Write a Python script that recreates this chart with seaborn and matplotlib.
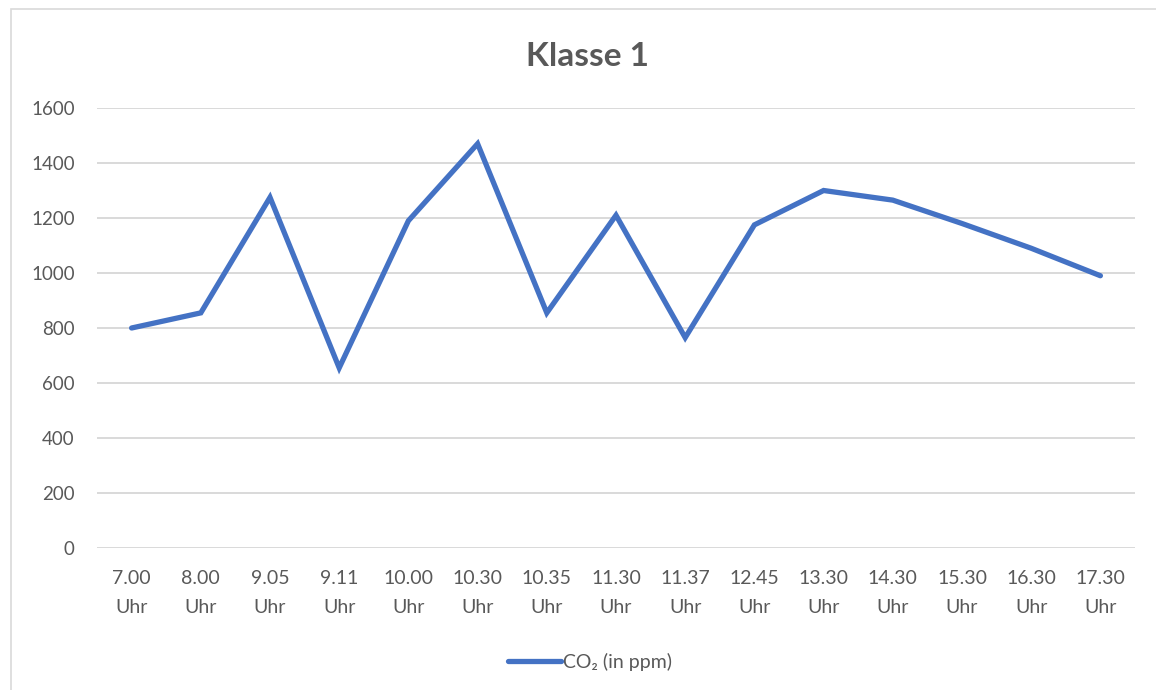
import seaborn as sns
import matplotlib.pyplot as plt
from matplotlib.patches import Rectangle
import pandas as pd

# data
zeiten = ["7.00", "8.00", "9.05", "9.11", "10.00", "10.30", "10.35", "11.30",
          "11.37", "12.45", "13.30", "14.30", "15.30", "16.30", "17.30"]
co2_ppm = [800, 855, 1275, 655, 1190, 1470, 855, 1210,
           765, 1175, 1300, 1265, 1180, 1090, 990]
y_ticks = [0, 200, 400, 600, 800, 1000, 1200, 1400, 1600]

labels = [f"{z}\nUhr" for z in zeiten]
df = pd.DataFrame({"zeit": labels, "co2": co2_ppm})

sns.set_style("white")
plt.rcParams["font.family"] = ["Lato", "DejaVu Sans"]

grey = "#595959"
fig = plt.figure(figsize=(11.56, 6.9), dpi=100)
ax = fig.add_axes([97 / 1156, 1 - 548 / 690, (1135 - 97) / 1156, (548 - 108) / 690])

sns.lineplot(data=df, x="zeit", y="co2", sort=False, color="#4472C4",
             linewidth=3.8, solid_capstyle="round", solid_joinstyle="miter",
             label="CO\u2082 (in ppm)", legend=False, ax=ax)

ax.set_xlim(-0.5, len(zeiten) - 0.5)
ax.set_ylim(0, 1600)
ax.set_yticks(y_ticks)
ax.yaxis.grid(True, color="#d9d9d9", linewidth=1.4)
ax.set_axisbelow(True)
for s in ax.spines.values():
    s.set_visible(False)
ax.set_xlabel("")
ax.set_ylabel("")
ax.tick_params(axis="y", length=0, pad=16, labelsize=13.5, labelcolor=grey)
ax.tick_params(axis="x", length=0, pad=16, labelsize=14, labelcolor=grey)
for t in ax.get_xticklabels():
    t.set_linespacing(1.85)

fig.text(588 / 1156, 1 - 57 / 690, "Klasse 1", ha="center", va="center",
         fontsize=24, fontweight="bold", color=grey)

leg = fig.legend(loc="center", bbox_to_anchor=(590 / 1156, 1 - 662 / 690),
                 frameon=False, fontsize=14, handlelength=2.7, handletextpad=0.1)
for t in leg.get_texts():
    t.set_color(grey)

# outer chart border
fig.patches.append(Rectangle((11 / 1156, -0.05), 1.2, 1 - 9 / 690 + 0.05,
                             transform=fig.transFigure, fill=False,
                             edgecolor="#d9d9d9", linewidth=1.2))

fig.savefig("out.png", dpi=100)
